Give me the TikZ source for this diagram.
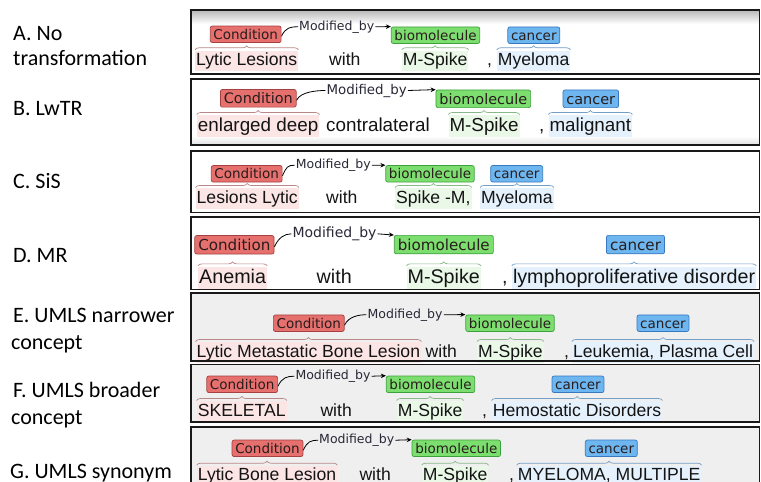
\documentclass[tikz,border=0pt]{standalone}
\usepackage{fontspec}
\setmainfont{Liberation Sans}
\newfontfamily\labfont{DejaVu Sans}
\newfontfamily\sidefont{Carlito}
\usetikzlibrary{decorations.pathreplacing,arrows.meta}

\definecolor{condfill}{RGB}{229,112,110}
\definecolor{conddraw}{RGB}{165,65,65}
\definecolor{biofill}{RGB}{125,222,112}
\definecolor{biodraw}{RGB}{60,160,60}
\definecolor{cancfill}{RGB}{110,182,240}
\definecolor{cancdraw}{RGB}{55,120,190}
\definecolor{pinkbg}{RGB}{252,229,229}
\definecolor{greenbg}{RGB}{234,248,231}
\definecolor{bluebg}{RGB}{229,241,252}
\definecolor{bracered}{RGB}{185,135,135}
\definecolor{bracegreen}{RGB}{135,185,135}
\definecolor{braceblue}{RGB}{115,158,200}
\definecolor{maintext}{RGB}{20,20,20}
\definecolor{labtext}{RGB}{40,28,28}
\definecolor{arctext}{RGB}{40,40,55}
\definecolor{panelline}{RGB}{25,25,25}
\definecolor{panelgray}{RGB}{239,239,239}

\newcommand\mySetScale[1]{%
  \pgfmathsetmacro\myMain{17.6*#1}%
  \pgfmathsetmacro\myLab{13.5*#1}%
  \pgfmathsetmacro\myArc{12.5*#1}%
  \pgfmathsetlengthmacro\myWth{13.6*#1}%
  \pgfmathsetlengthmacro\myWtd{4.3*#1}%
  \pgfmathsetlengthmacro\myLth{10.2*#1}%
  \pgfmathsetlengthmacro\myLys{3*#1}%
  \pgfmathsetlengthmacro\myLxs{3.2*#1}%
}

\tikzset{
  panel/.style={draw=panelline, line width=1.6pt},
  word/.style={anchor=base west, inner xsep=1pt, inner ysep=1.2pt,
    text height=\myWth, text depth=\myWtd, text=maintext,
    font=\fontsize{\myMain pt}{\myMain pt}\selectfont},
  lab/.style={draw, rounded corners=2pt, line width=0.7pt,
    inner xsep=\myLxs, inner ysep=\myLys, text height=\myLth, text depth=0.3pt,
    text=labtext, font=\labfont\fontsize{\myLab pt}{\myLab pt}\selectfont},
  condlab/.style={lab, fill=condfill, draw=conddraw},
  biolab/.style={lab, fill=biofill, draw=biodraw},
  canclab/.style={lab, fill=cancfill, draw=cancdraw},
  arclab/.style={anchor=base, inner sep=1pt, text=arctext,
    font=\labfont\fontsize{\myArc pt}{\myArc pt}\selectfont},
  bracebase/.style={decorate, decoration={brace, amplitude=4pt}, line width=0.7pt},
  arcline/.style={line width=0.8pt, draw=black},
  arcarrow/.style={line width=0.8pt, draw=black, -{Stealth[length=5pt,width=4.5pt]}},
  side/.style={anchor=base west, inner sep=0pt, text=black,
    font=\sidefont\fontsize{22pt}{22pt}\selectfont}
}

\newcommand\myLinks[1]{%
  \draw[bracebase, draw=bracered] ([yshift=0.5pt]w#1a.north west) -- ([yshift=0.5pt]w#1a.north east);
  \draw[bracebase, draw=bracegreen] ([yshift=0.5pt]w#1c.north west) -- ([yshift=0.5pt]w#1c.north east);
  \draw[bracebase, draw=braceblue] ([yshift=0.5pt]w#1e.north west) -- ([yshift=0.5pt]w#1e.north east);
  \draw[arcline] ([yshift=-2pt]c#1.east) .. controls +(4,-9) and +(-7,0) .. (m#1.west);
  \draw[arcarrow] (m#1.east) -- (b#1.north west);
}

\newcommand\myPanels{%
  (191,10) rectangle (759.5,74)
  (191,79) rectangle (759.5,145)
  (191,151) rectangle (759.5,212.5)
  (191,217) rectangle (759.5,289.5)
  (191,293) rectangle (759.5,361)
  (191,364.5) rectangle (759.5,422)
  (191,427) rectangle (759.5,495)
}

\begin{document}
\begin{tikzpicture}[x=1pt,y=-1pt]
\clip (0,0) rectangle (761,482);
\fill[white] (0,0) rectangle (761,482);

% panel backgrounds
\fill[white] (191,10) rectangle (759.5,74);
\shade[top color=black!28, bottom color=white] (191,10) rectangle (759.5,24);
\fill[white] (191,79) rectangle (759.5,145);
\shade[top color=white, bottom color=black!12] (191,136) rectangle (759.5,145);
\fill[white] (191,151) rectangle (759.5,212.5);
\fill[white] (191,217) rectangle (759.5,289.5);
\fill[panelgray] (191,293) rectangle (759.5,361);
\fill[panelgray] (191,364.5) rectangle (759.5,422);
\fill[panelgray] (191,427) rectangle (759.5,495);

% side labels
\node[side] (sA1) at (13,40.5) {A. No};
\node[side] (sA2) at (13,65) {transformation};
\node[side] (sB) at (13,115) {B. LwTR};
\node[side] (sC) at (13,188.5) {C. SiS};
\node[side] (sD) at (13,262) {D. MR};
\node[side] (sE1) at (13,322) {E. UMLS narrower};
\node[side] (sE2) at (11,349) {concept};
\node[side] (sF1) at (13,397) {F. UMLS broader};
\node[side] (sF2) at (11,424) {concept};
\node[side] (sG) at (10,478.5) {G. UMLS synonym};

% ---------- A
\mySetScale{1}
\node[word, fill=pinkbg] (wAa) at (195,65.3) {Lytic Lesions};
\node[word] (wAb) at (328,65.3) {with};
\node[word, fill=greenbg] (wAc) at (401.7,65.3) {M-Spike};
\node[word] (wAd) at (486,65.3) {,};
\node[word, fill=bluebg] (wAe) at (496.7,65.3) {Myeloma};
\node[condlab] (cA) at (245.7,34.3) {Condition};
\node[biolab] (bA) at (435.5,35.2) {biomolecule};
\node[canclab] (kA) at (533.8,35.2) {cancer};
\node[arclab] (mA) at (336.7,30) {Modified\_by};
\myLinks{A}

% ---------- B
\mySetScale{1.07}
\node[word, fill=pinkbg] (wBa) at (196.7,131) {enlarged deep};
\node[word] (wBb) at (325,131) {contralateral};
\node[word, fill=greenbg] (wBc) at (448.3,131) {M-Spike};
\node[word] (wBd) at (538,131) {,};
\node[word, fill=bluebg] (wBe) at (548.3,131) {malignant};
\node[condlab] (cB) at (258.3,98.3) {Condition};
\node[biolab] (bB) at (483.3,98.8) {biomolecule};
\node[canclab] (kB) at (590.8,98.8) {cancer};
\node[arclab] (mB) at (366.7,94) {Modified\_by};
\myLinks{B}

% ---------- C
\mySetScale{1}
\node[word, fill=pinkbg] (wCa) at (195.5,203) {Lesions Lytic};
\node[word] (wCb) at (325,203) {with};
\node[word, fill=greenbg] (wCc) at (395,203) {Spike -M,};
\node[word, fill=bluebg] (wCe) at (480,203) {Myeloma};
\node[condlab] (cC) at (246.7,173.8) {Condition};
\node[biolab] (bC) at (430,173.8) {biomolecule};
\node[canclab] (kC) at (516.7,173.8) {cancer};
\node[arclab] (mC) at (333.3,168.5) {Modified\_by};
\myLinks{C}

% ---------- D
\mySetScale{1.12}
\node[word, fill=pinkbg] (wDa) at (198,283) {Anemia};
\node[word] (wDb) at (315.5,283) {with};
\node[word, fill=greenbg] (wDc) at (406.4,283) {M-Spike};
\node[word] (wDd) at (501,283) {,};
\node[word, fill=bluebg] (wDe) at (511.8,283) {lymphoproliferative disorder};
\node[condlab] (cD) at (234.4,244.8) {Condition};
\node[biolab] (bD) at (443.8,244.6) {biomolecule};
\node[canclab] (kD) at (635.5,244.6) {cancer};
\node[arclab] (mD) at (334.5,237.5) {Modified\_by};
\myLinks{D}

% ---------- E
\mySetScale{1}
\node[word, fill=pinkbg] (wEa) at (195.5,357) {Lytic Metastatic Bone Lesion};
\node[word] (wEb) at (424.5,357) {with};
\node[word, fill=greenbg] (wEc) at (477,357) {M-Spike};
\node[word] (wEd) at (563,357) {,};
\node[word, fill=bluebg] (wEe) at (571.8,357) {Leukemia, Plasma Cell};
\node[condlab] (cE) at (308.8,323.2) {Condition};
\node[biolab] (bE) at (510,323.2) {biomolecule};
\node[canclab] (kE) at (663,323.2) {cancer};
\node[arclab] (mE) at (405.1,318) {Modified\_by};
\myLinks{E}

% ---------- F
\mySetScale{1}
\node[word, fill=pinkbg] (wFa) at (196.7,416) {SKELETAL};
\node[word] (wFb) at (319.3,416) {with};
\node[word, fill=greenbg] (wFc) at (396.7,416) {M-Spike};
\node[word] (wFd) at (481,416) {,};
\node[word, fill=bluebg] (wFe) at (491.7,416) {Hemostatic Disorders};
\node[condlab] (cF) at (242.2,384.3) {Condition};
\node[biolab] (bF) at (430.5,384.3) {biomolecule};
\node[canclab] (kF) at (578,384.3) {cancer};
\node[arclab] (mF) at (333,379.5) {Modified\_by};
\myLinks{F}

% ---------- G
\mySetScale{1}
\node[word, fill=pinkbg] (wGa) at (196.7,480.7) {Lytic Bone Lesion};
\node[word] (wGb) at (358.3,480.7) {with};
\node[word, fill=greenbg] (wGc) at (421.7,480.7) {M-Spike};
\node[word] (wGd) at (508,480.7) {,};
\node[word, fill=bluebg] (wGe) at (516.7,480.7) {MYELOMA, MULTIPLE};
\node[condlab] (cG) at (267.5,448.3) {Condition};
\node[biolab] (bG) at (456.3,448.3) {biomolecule};
\node[canclab] (kG) at (611.3,448.3) {cancer};
\node[arclab] (mG) at (356.7,443.5) {Modified\_by};
\myLinks{G}

% panel outlines on top
\draw[panel] \myPanels;
\end{tikzpicture}
\end{document}
